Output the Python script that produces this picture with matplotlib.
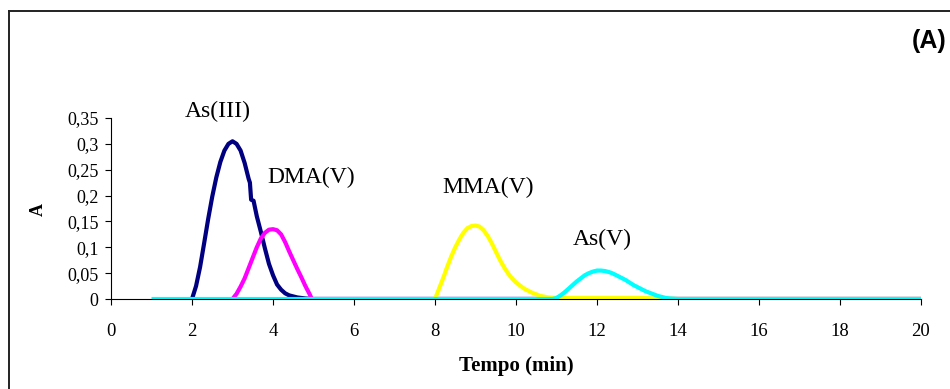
import matplotlib
matplotlib.use("Agg")
import matplotlib.pyplot as plt
from matplotlib.lines import Line2D

# ---- data ----
as3_t = [2.0, 2.1, 2.2, 2.3, 2.4, 2.5, 2.6, 2.7, 2.8, 2.9, 3.0, 3.1, 3.2, 3.3, 3.4, 3.43, 3.46, 3.52,
         3.6, 3.7, 3.8, 3.9, 4.0, 4.1, 4.2, 4.3, 4.4, 4.6, 4.8, 5.0, 20.0]
as3_v = [0.0, 0.025, 0.062, 0.108, 0.155, 0.198, 0.235, 0.265, 0.287, 0.300, 0.305, 0.300, 0.287, 0.263,
         0.232, 0.225, 0.192, 0.190, 0.160, 0.130, 0.098, 0.068, 0.046, 0.028, 0.018, 0.011, 0.007,
         0.003, 0.001, 0.0, 0.0]

dma_t = [3.0, 3.1, 3.2, 3.3, 3.4, 3.5, 3.6, 3.7, 3.8, 3.9, 4.0, 4.1, 4.2, 4.3, 4.4, 4.5, 4.6, 4.7,
         4.8, 4.9, 4.96, 20.0]
dma_v = [0.0, 0.01, 0.024, 0.04, 0.06, 0.08, 0.10, 0.117, 0.128, 0.134, 0.135, 0.133, 0.125, 0.11,
         0.092, 0.075, 0.058, 0.042, 0.025, 0.01, 0.0, 0.0]

mma_t = [8.0, 8.1, 8.2, 8.3, 8.4, 8.5, 8.6, 8.7, 8.8, 8.9, 9.0, 9.1, 9.2, 9.3, 9.4, 9.5, 9.6, 9.7,
         9.8, 9.9, 10.0, 10.2, 10.4, 10.6, 10.8, 11.0, 12.0, 13.0, 14.0, 20.0]
mma_v = [0.0, 0.02, 0.04, 0.062, 0.082, 0.100, 0.115, 0.128, 0.137, 0.141, 0.142, 0.140, 0.133, 0.122,
         0.108, 0.092, 0.076, 0.062, 0.050, 0.040, 0.032, 0.020, 0.012, 0.006, 0.003, 0.002, 0.002,
         0.002, 0.0, 0.0]

as5_t = [1.0, 10.9, 11.0, 11.1, 11.2, 11.3, 11.4, 11.5, 11.6, 11.7, 11.8, 11.9, 12.0, 12.1, 12.2,
         12.3, 12.4, 12.5, 12.6, 12.7, 12.8, 12.9, 13.0, 13.1, 13.2, 13.3, 13.4, 13.5, 13.6, 13.7,
         13.8, 14.0, 20.0]
as5_v = [0.0, 0.0, 0.002, 0.007, 0.013, 0.02, 0.027, 0.034, 0.04, 0.046, 0.05, 0.053, 0.055, 0.055,
         0.054, 0.052, 0.049, 0.045, 0.041, 0.037, 0.032, 0.027, 0.023, 0.019, 0.015, 0.012, 0.009,
         0.006, 0.004, 0.002, 0.001, 0.0, 0.0]

series_names = ["As(III)", "DMA(V)", "MMA(V)", "As(V)"]
series_colors = ["#000080", "#FF00FF", "#FFFF00", "#00FFFF"]

x_ticks = [0, 2, 4, 6, 8, 10, 12, 14, 16, 18, 20]
y_ticks = [0, 0.05, 0.1, 0.15, 0.2, 0.25, 0.3, 0.35]
y_tick_labels = ["0", "0,05", "0,1", "0,15", "0,2", "0,25", "0,3", "0,35"]

W, H = 950, 389
fig = plt.figure(figsize=(W / 100, H / 100), dpi=100)
ax = fig.add_axes([111 / W, (H - 299) / H, 810 / W, 181 / H])

serif = "Liberation Serif"
data = [(as3_t, as3_v), (dma_t, dma_v), (mma_t, mma_v), (as5_t, as5_v)]
for (t, v), c in zip(data, series_colors):
    ax.plot(t, v, color=c, lw=3.0, solid_joinstyle="round", solid_capstyle="butt")

ax.set_xlim(0, 20)
ax.set_ylim(0, 0.35)
ax.set_xticks(x_ticks)
ax.set_xticklabels([str(x) for x in x_ticks], fontfamily=serif, fontsize=13.5)
ax.set_yticks(y_ticks)
ax.set_yticklabels(y_tick_labels, fontfamily=serif, fontsize=13)
ax.tick_params(axis="x", direction="out", length=4, width=0.8, pad=13)
ax.tick_params(axis="y", direction="out", length=4, width=0.8, pad=5)
for s in ["top", "right"]:
    ax.spines[s].set_visible(False)
for s in ["left", "bottom"]:
    ax.spines[s].set_linewidth(0.8)

# peak labels
label_pos = [(2.64, 0.362), (4.95, 0.235), (9.32, 0.215), (12.12, 0.116)]
for name, (x, y) in zip(series_names, label_pos):
    ax.text(x, y, name, ha="center", va="center", fontfamily=serif, fontsize=17, clip_on=False)

fig.text(516 / W, 1 - 366 / H, "Tempo (min)", ha="center", va="center",
         fontfamily=serif, fontweight="bold", fontsize=15)
fig.text(38 / W, 1 - 209 / H, "A", ha="center", va="center", rotation=90,
         fontfamily=serif, fontweight="bold", fontsize=13)
fig.text(929 / W, 1 - 41 / H, "(A)", ha="center", va="center",
         fontfamily="Liberation Sans", fontweight="bold", fontsize=18)

# outer frame (left and top edges visible)
fig.add_artist(Line2D([8.5 / W, 8.5 / W], [0, 1 - 11 / H], transform=fig.transFigure, color="#222222", lw=1.4))
fig.add_artist(Line2D([8.5 / W, 1.0], [1 - 11 / H, 1 - 11 / H], transform=fig.transFigure, color="#222222", lw=1.4))

fig.savefig("out.png", dpi=100)
